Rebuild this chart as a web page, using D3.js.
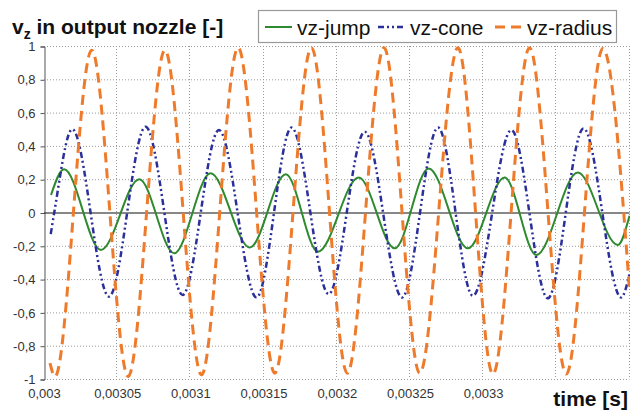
<!doctype html>
<html lang='en'>
<head>
    <meta charset='UTF-8'>
    <title>vz in output nozzle</title>
    <script src='https://cdn.jsdelivr.net/npm/d3@7/dist/d3.min.js'></script>
    <style>
        body { margin: 0; background: #fff; }
        text { font-family: 'Liberation Sans', Arial, sans-serif; }
    </style>
</head>
<body>
<div id='chart'></div>
<script>
    // values (turning points of each trace)
    var jumpT = [0.0030048, 0.0030137, 0.0030389, 0.0030651, 0.0030889, 0.0031138, 0.0031406, 0.0031652, 0.0031872,
        0.0032150, 0.0032396, 0.0032628, 0.0032896, 0.0033147, 0.0033363, 0.0033647, 0.0033920, 0.0034];
    var jumpV = [0.105, 0.26, -0.225, 0.2, -0.245, 0.235, -0.21, 0.23, -0.235,
        0.21, -0.215, 0.265, -0.215, 0.21, -0.255, 0.24, -0.195, -0.02];

    var coneT = [0.0030046, 0.0030070, 0.0030193, 0.0030444, 0.0030694, 0.0030947, 0.0031195, 0.0031452, 0.0031691,
        0.0031945, 0.0032191, 0.0032446, 0.0032692, 0.0032930, 0.0033193, 0.0033442, 0.0033686, 0.0033943, 0.0034];
    var coneV = [-0.13, 0, 0.5, -0.505, 0.515, -0.495, 0.495, -0.51, 0.51,
        -0.49, 0.485, -0.51, 0.51, -0.5, 0.495, -0.515, 0.505, -0.51, -0.37];

    var radiusT = [0.0030041, 0.0030075, 0.0030326, 0.0030575, 0.0030826, 0.0031076, 0.0031326, 0.0031577, 0.0031827,
        0.0032072, 0.0032323, 0.0032567, 0.0032828, 0.0033067, 0.0033317, 0.0033568, 0.0033818, 0.0034];
    var radiusV = [-0.905, -0.985, 0.975, -0.985, 0.975, -0.975, 0.99, -0.965, 0.99,
        -0.965, 0.99, -0.965, 0.99, -0.97, 0.99, -0.97, 0.985, -0.465];

    var xTicks = [0.003, 0.00305, 0.0031, 0.00315, 0.0032, 0.00325, 0.0033];
    var xGrid = [0.00305, 0.0031, 0.00315, 0.0032, 0.00325, 0.0033, 0.00335, 0.0034];
    var yTicks = [-1, -0.8, -0.6, -0.4, -0.2, 0, 0.2, 0.4, 0.6, 0.8, 1];

    var W = 630, H = 412;
    var M = { left: 44, top: 46, right: 0.5, bottom: 33 };

    var series = [
        { name: 'vz-jump', t: jumpT, v: jumpV, color: '#2f8a2f', width: 2, dash: null },
        { name: 'vz-cone', t: coneT, v: coneV, color: '#2b2f9a', width: 2.5, dash: '6,3,2,3,2,3' },
        { name: 'vz-radius', t: radiusT, v: radiusV, color: '#ee7b2c', width: 3, dash: '10,6' }
    ];

    var loc = d3.formatLocale({ decimal: ',', thousands: '.', grouping: [3], currency: ['', ''], minus: '-' });
    var fmt = loc.format('~g');

    var svg = d3.select('#chart').append('svg').attr('width', W).attr('height', H);
    svg.append('rect').attr('width', W).attr('height', H).attr('fill', '#fff');

    var x = d3.scaleLinear().domain([0.003, 0.0034]).range([M.left, W - M.right]);
    var y = d3.scaleLinear().domain([-1, 1]).range([H - M.bottom, M.top]);

    // gridlines
    svg.append('g').selectAll('line').data(yTicks.filter(function (d) { return d != 0; })).enter().append('line')
        .attr('x1', M.left).attr('x2', W - M.right)
        .attr('y1', function (d) { return y(d) + 0.5; }).attr('y2', function (d) { return y(d) + 0.5; })
        .attr('stroke', '#9a9a9a').attr('stroke-width', 1).attr('stroke-dasharray', '1,2');
    svg.append('g').selectAll('line').data(xGrid).enter().append('line')
        .attr('x1', function (d) { return Math.round(x(d)) - 0.5; }).attr('x2', function (d) { return Math.round(x(d)) - 0.5; })
        .attr('y1', M.top).attr('y2', H - M.bottom)
        .attr('stroke', '#9a9a9a').attr('stroke-width', 1).attr('stroke-dasharray', '1,2');

    // y axis
    var yAxis = d3.axisLeft(y).tickValues(yTicks).tickSize(4).tickPadding(5).tickFormat(fmt);
    var gy = svg.append('g').attr('transform', 'translate(' + (M.left + 0.5) + ',0.5)').call(yAxis);
    gy.select('.domain').attr('stroke', '#555');
    gy.selectAll('.tick line').attr('stroke', '#555');
    gy.selectAll('text').attr('font-size', 13).attr('fill', '#333').attr('font-family', "'Liberation Sans', Arial, sans-serif");

    // zero line
    svg.append('line').attr('x1', M.left).attr('x2', W - M.right)
        .attr('y1', y(0) + 0.5).attr('y2', y(0) + 0.5).attr('stroke', '#111').attr('stroke-width', 1);

    // x labels at the bottom
    var xAxis = d3.axisBottom(x).tickValues(xTicks).tickSize(0).tickPadding(0).tickFormat(fmt);
    var gx = svg.append('g').attr('transform', 'translate(0,' + (H - M.bottom + 10) + ')').call(xAxis);
    gx.select('.domain').remove();
    gx.selectAll('text').attr('font-size', 13).attr('fill', '#333').attr('font-family', "'Liberation Sans', Arial, sans-serif");

    // traces
    var line = d3.line()
        .x(function (d) { return x(d[0]); })
        .y(function (d) { return y(d[1]); })
        .curve(d3.curveMonotoneX);
    var clip = svg.append('clipPath').attr('id', 'plot').append('rect')
        .attr('x', M.left).attr('y', 0).attr('width', W - M.left).attr('height', H);
    series.forEach(function (s) {
        svg.append('path')
            .attr('d', line(s.t.map(function (t, i) { return [t, s.v[i]]; })))
            .attr('clip-path', 'url(#plot)')
            .attr('fill', 'none')
            .attr('stroke', s.color)
            .attr('stroke-width', s.width)
            .attr('stroke-dasharray', s.dash)
            .attr('stroke-linejoin', 'round');
    });

    // title
    var title = svg.append('text').attr('x', 12).attr('y', 34)
        .attr('font-size', 21).attr('font-weight', 'bold').attr('fill', '#111');
    title.append('tspan').text('v');
    title.append('tspan').attr('font-size', 14).attr('dy', 5).text('z');
    title.append('tspan').attr('dy', -5).text(' in output nozzle [-]');

    svg.append('text').attr('x', 628).attr('y', 406).attr('text-anchor', 'end')
        .attr('font-size', 21).attr('font-weight', 'bold').attr('fill', '#111').text('time [s]');

    // legend
    var lg = svg.append('g');
    lg.append('rect').attr('x', 258.5).attr('y', 10.5).attr('width', 358).attr('height', 32)
        .attr('fill', '#fff').attr('stroke', '#999').attr('stroke-width', 1.2);
    var legX = [265, 378, 495];
    series.forEach(function (s, i) {
        lg.append('line').attr('x1', legX[i]).attr('x2', legX[i] + 27).attr('y1', 27).attr('y2', 27)
            .attr('stroke', s.color).attr('stroke-width', s.width).attr('stroke-dasharray', s.dash);
        lg.append('text').attr('x', legX[i] + 32).attr('y', 34.5).attr('font-size', 21).attr('fill', '#111').text(s.name);
    });
</script>
</body>
</html>
